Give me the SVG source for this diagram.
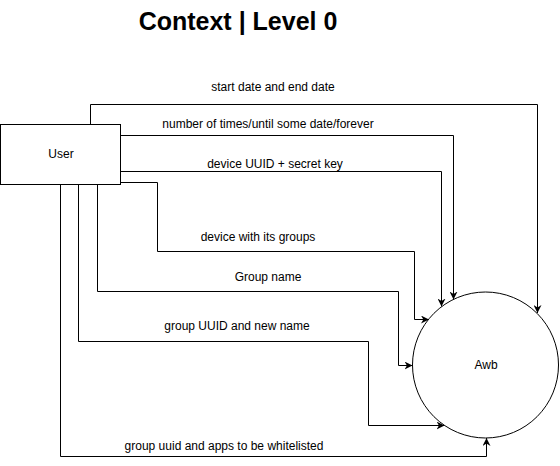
<svg xmlns="http://www.w3.org/2000/svg" width="560" height="466" viewBox="0 0 560 466">
<defs>
<style>
.ln{fill:none;stroke:#000;stroke-width:1;marker-end:url(#arr)}
.lbl{font-family:"Liberation Sans",Arial,sans-serif;font-size:12px;fill:#000;text-anchor:middle}
.shape{fill:#fff;stroke:#000;stroke-width:1}
</style>
<marker id="arr" viewBox="0 0 10 10" refX="10" refY="5" markerWidth="8" markerHeight="8" markerUnits="userSpaceOnUse" orient="auto">
<path d="M0,0 L10,5 L0,10 L3,5 z" fill="#000"/>
</marker>
</defs>
<rect width="560" height="466" fill="#fff"/>
<text x="238" y="30" style="font-family:'Liberation Sans',Arial,sans-serif;font-size:25px;font-weight:bold;text-anchor:middle">Context | Level 0</text>
<g id="connectors">
<path class="ln" d="M90.5,124 V104.5 H537.5 V313"/>
<path class="ln" d="M120,135.5 H453.5 V299.5"/>
<path class="ln" d="M120,171.5 H441.5 V306.5"/>
<path class="ln" d="M120,182.5 H157.5 V251.5 H414.5 V319.5 H429"/>
<path class="ln" d="M97.5,184 V291.5 H398.5 V365.5 H412.5"/>
<path class="ln" d="M78.5,184 V341.5 H368.5 V425.5 H444.5"/>
<path class="ln" d="M60.5,184 V456.5 H486.5 V438"/>
<text class="lbl" x="273" y="91">start date and end date</text>
<text class="lbl" x="268" y="128">number of times/until some date/forever</text>
<text class="lbl" x="275" y="168">device UUID + secret key</text>
<text class="lbl" x="258" y="241">device with its groups</text>
<text class="lbl" x="268" y="281">Group name</text>
<text class="lbl" x="237" y="330">group UUID and new name</text>
<text class="lbl" x="224" y="450">group uuid and apps to be whitelisted</text>
</g>
<g id="user">
<rect class="shape" x="0.5" y="124.5" width="120" height="60"/>
<text class="lbl" x="61" y="158">User</text>
</g>
<g id="awb">
<circle class="shape" cx="485.5" cy="365" r="73"/>
<text class="lbl" x="486" y="369">Awb</text>
</g>
</svg>
